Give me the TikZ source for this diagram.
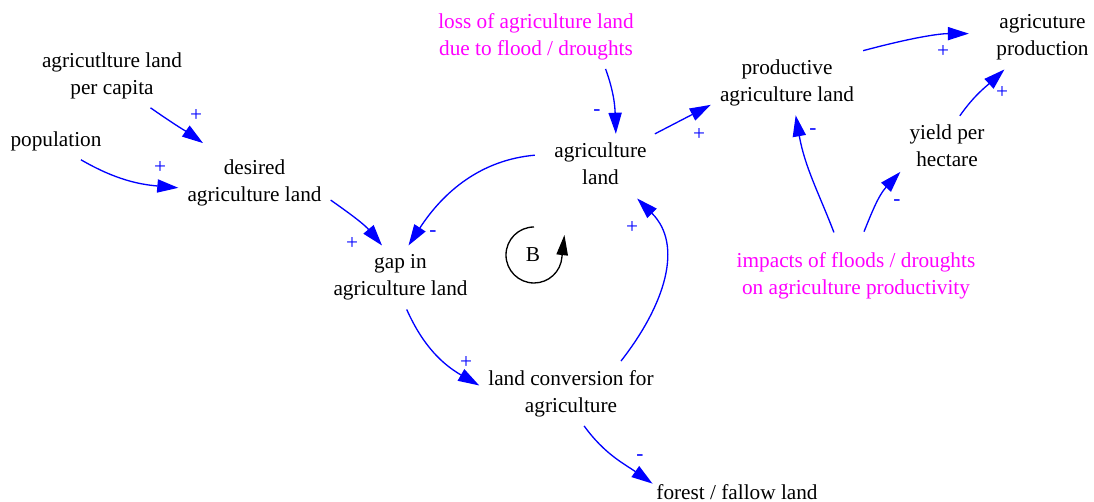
\documentclass[tikz,border=0pt]{standalone}
\usepackage{fontspec}
\setmainfont{Liberation Serif}
\newfontfamily\cldfont{Liberation Serif}
\usetikzlibrary{arrows.meta}
\definecolor{linkblue}{RGB}{0,0,255}
\definecolor{extpink}{RGB}{255,0,255}
\begin{document}
\begin{tikzpicture}[x=0.02cm,y=0.02cm]
\tikzstyle{var}=[align=center, inner sep=5pt, font=\cldfont\fontsize{12.1}{15.4}\selectfont]
\tikzstyle{ext}=[var, text=extpink]
\tikzstyle{sign}=[inner sep=0pt, text=linkblue, font=\cldfont\fontsize{12.1}{15.4}\selectfont]
\tikzstyle{link}=[draw=linkblue, line width=0.75pt, -{Triangle[length=12pt,width=7.5pt]}]
\useasboundingbox (0,0) rectangle (1094,-502);

\node[var] (pcap) at (112,-75.5) {agricutlture land\\per capita};
\node[var] (pop) at (56,-141) {population};
\node[var] (desired) at (254.5,-182.5) {desired\\agriculture land};
\node[ext] (loss) at (536,-36.5) {loss of agriculture land\\due to flood / droughts};
\node[var] (agland) at (600.5,-164) {agriculture\\land};
\node[var] (prodland) at (787,-83) {productive\\agriculture land};
\node[var] (agprod) at (1042.5,-37.5) {agricuture\\production};
\node[var] (yield) at (947,-146) {yield per\\hectare};
\node[ext] (impacts) at (856,-275.5) {impacts of floods / droughts\\on agriculture productivity};
\node[var] (gap) at (400.5,-277.5) {gap in\\agriculture land};
\node[var] (conv) at (571,-393.5) {land conversion for\\agriculture};
\node[var, inner xsep=2pt] (forest) at (737,-492.5) {forest / fallow land};
\node[var, inner sep=0pt] (loopB) at (533,-255) {B};

% causal links
\draw[link, shorten >=7pt] (pcap.-40) to[out=-35,in=145] (desired.142);
\draw[link] (pop.-37) to[out=-30,in=175] (desired.-176);
\draw[link] (desired.-13) to[out=-35,in=130] (gap.120);
\draw[link, shorten <=6pt] (agland.170) to[out=185,in=57] (gap.76);
\draw[link] (loss.-25) to[out=-70,in=92] (agland.63);
\draw[link] (agland.29) -- (prodland.-164);
\draw[link, shorten >=10.5pt] (prodland.23) to[out=15,in=180] (agprod.176);
\draw[link] (yield.67) to[out=55,in=-137] (agprod.220);
\draw[link, shorten <=6.5pt] (impacts.119.5) to[out=111,in=-80] (prodland.-75);
\draw[link, shorten <=7pt] (impacts.84) to[out=68,in=-133] (yield.209);
\draw[link] (gap.-79) to[out=-66,in=150] (conv.175);
\draw[link, shorten >=3.5pt] (conv.33) to[out=52,in=-45,looseness=1.1] (agland.-43);
\draw[link] (conv.-68) to[out=-54,in=145] (forest.174);

% balancing loop
\draw[line width=0.75pt, -{Triangle[length=11.5pt,width=6.5pt]}] (loopB.center) ++(1,28) arc[start angle=90,end angle=356,radius=28] -- ++(2.5,22);

% polarities
\node[sign] (s1) at (196,-116) {+};
\node[sign] (s2) at (160,-168) {+};
\node[sign] (s3) at (352,-243) {+};
\node[sign] (s4) at (433,-234) {-};
\node[sign] (s5) at (597,-113) {-};
\node[sign] (s6) at (699,-135) {+};
\node[sign] (s7) at (943,-52) {+};
\node[sign] (s8) at (1002,-93) {+};
\node[sign] (s9) at (813,-132) {-};
\node[sign] (s10) at (897,-203) {-};
\node[sign] (s11) at (466,-362) {+};
\node[sign] (s12) at (632,-227) {+};
\node[sign] (s13) at (640,-458) {-};
\end{tikzpicture}
\end{document}
